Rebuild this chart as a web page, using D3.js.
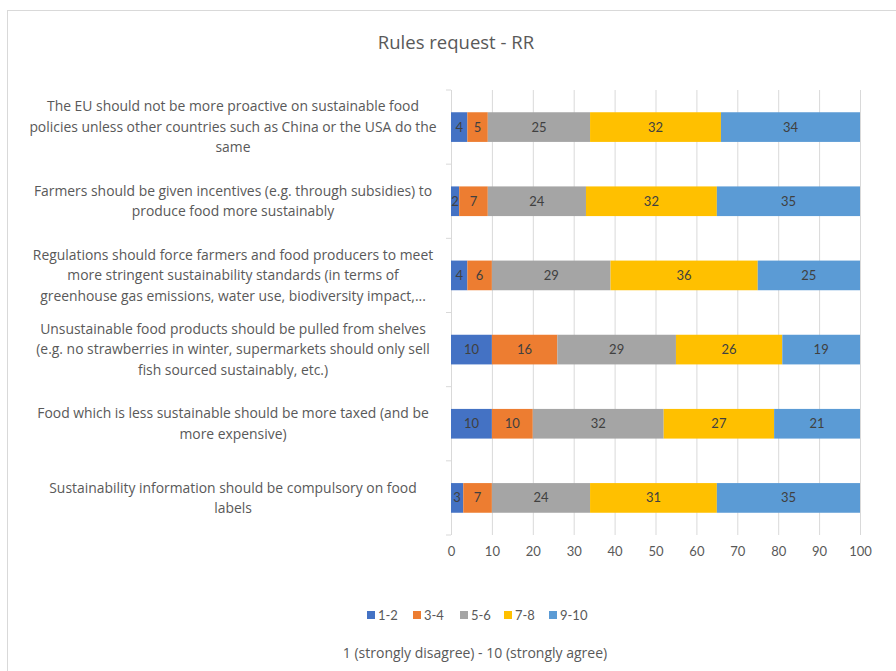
<!DOCTYPE html>
<html>
<head>
<meta charset="utf-8">
<script src="https://cdn.jsdelivr.net/npm/d3@7"></script>
<style>
  body { margin: 0; background: #fff; }
  text { font-family: Lato, "Open Sans", sans-serif; }
  .wide { font-family: "Open Sans", Lato, sans-serif; }
</style>
</head>
<body>
<div id="chart"></div>
<script>
// data
var categories = [
    ["The EU should not be more proactive on sustainable food", "policies unless other countries such as China or the USA do the", "same"],
    ["Farmers should be given incentives (e.g. through subsidies) to", "produce food more sustainably"],
    ["Regulations should force farmers and food producers to meet", "more stringent sustainability standards (in terms of", "greenhouse gas emissions, water use, biodiversity impact,..."],
    ["Unsustainable food products should be pulled from shelves", "(e.g. no strawberries in winter, supermarkets should only sell", "fish sourced sustainably, etc.)"],
    ["Food which is less sustainable should be more taxed (and be", "more expensive)"],
    ["Sustainability information should be compulsory on food", "labels"]
];
var seriesNames = ["1-2", "3-4", "5-6", "7-8", "9-10"];
var s12 = [4, 2, 4, 10, 10, 3];
var s34 = [5, 7, 6, 16, 10, 7];
var s56 = [25, 24, 29, 29, 32, 24];
var s78 = [32, 32, 36, 26, 27, 31];
var s910 = [34, 35, 25, 19, 21, 35];
var xTicks = [0, 10, 20, 30, 40, 50, 60, 70, 80, 90, 100];
var colors = ["#4472C4", "#ED7D31", "#A5A5A5", "#FFC000", "#5B9BD5"];

//general setup
var width = 896,
    height = 671;
var plot = { left: 451, right: 860, top: 90, bottom: 535 };

var rows = categories.map(function (c, i) {
    return { idx: i, "1-2": s12[i], "3-4": s34[i], "5-6": s56[i], "7-8": s78[i], "9-10": s910[i] };
});

var stacked = d3.stack().keys(seriesNames)(rows);

var xScale = d3.scaleLinear()
    .domain([0, 100])
    .range([plot.left, plot.right]);

var yScale = d3.scaleBand()
    .domain(d3.range(categories.length))
    .range([plot.top, plot.bottom])
    .paddingInner(0.6)
    .paddingOuter(0.3);

var yEdges = d3.scalePoint()
    .domain(d3.range(categories.length + 1))
    .range([plot.top, plot.bottom]);

var color = d3.scaleOrdinal().domain(seriesNames).range(colors);

var svg = d3.select("#chart").append("svg")
    .attr("width", width)
    .attr("height", height);

// chart border
svg.append("rect")
    .attr("x", 7.5)
    .attr("y", 10.5)
    .attr("width", 960)
    .attr("height", 700)
    .attr("fill", "#fff")
    .attr("stroke", "#d9d9d9");

// title
svg.append("text")
    .attr("class", "wide")
    .attr("x", 456)
    .attr("y", 49)
    .attr("text-anchor", "middle")
    .attr("fill", "#595959")
    .style("font-size", "18.5px")
    .text("Rules request - RR");

// gridlines + x axis
svg.append("g")
    .attr("transform", "translate(0," + plot.bottom + ")")
    .call(d3.axisBottom(xScale).tickValues(xTicks).tickSize(-(plot.bottom - plot.top)).tickPadding(12))
    .call(function (g) {
        g.select(".domain").remove();
        g.selectAll(".tick line").attr("stroke", "#d9d9d9");
        g.selectAll(".tick text").attr("fill", "#595959").style("font-size", "13px");
    });

// y axis tick marks at band edges
svg.append("g")
    .selectAll("line")
    .data(yEdges.domain())
    .join("line")
    .attr("x1", plot.left - 5)
    .attr("x2", plot.left)
    .attr("y1", function (d) { return yEdges(d); })
    .attr("y2", function (d) { return yEdges(d); })
    .attr("stroke", "#d9d9d9");

// bars
var layer = svg.append("g")
    .selectAll("g")
    .data(stacked)
    .join("g")
    .attr("fill", function (d) { return color(d.key); });

layer.selectAll("rect")
    .data(function (d) { return d; })
    .join("rect")
    .attr("x", function (d) { return xScale(d[0]); })
    .attr("width", function (d) { return xScale(d[1]) - xScale(d[0]); })
    .attr("y", function (d) { return yScale(d.data.idx); })
    .attr("height", yScale.bandwidth());

// data labels
layer.selectAll("text")
    .data(function (d) { return d; })
    .join("text")
    .attr("x", function (d) { return (xScale(d[0]) + xScale(d[1])) / 2; })
    .attr("y", function (d) { return yScale(d.data.idx) + yScale.bandwidth() / 2; })
    .attr("dy", "0.35em")
    .attr("text-anchor", "middle")
    .attr("fill", "#404040")
    .style("font-size", "13px")
    .text(function (d) { return d[1] - d[0]; });

// category labels
var lineH = 20.5;
var cat = svg.append("g")
    .selectAll("text")
    .data(categories)
    .join("text")
    .attr("class", "wide")
    .attr("text-anchor", "middle")
    .attr("fill", "#595959")
    .style("font-size", "13.9px");

cat.selectAll("tspan")
    .data(function (d, i) {
        return d.map(function (t, j) { return { t: t, j: j, n: d.length, i: i }; });
    })
    .join("tspan")
    .attr("x", 233)
    .attr("y", function (d) {
        var c = yScale(d.i) + yScale.bandwidth() / 2;
        return c + (d.j - (d.n - 1) / 2) * lineH;
    })
    .attr("dy", "0.35em")
    .text(function (d) { return d.t; });

// legend
var legendX = [367, 413, 460, 504, 549];
var legend = svg.append("g")
    .selectAll("g")
    .data(seriesNames)
    .join("g")
    .attr("transform", function (d, i) { return "translate(" + legendX[i] + ",615)"; });

legend.append("rect")
    .attr("x", 0)
    .attr("y", -4)
    .attr("width", 8)
    .attr("height", 8)
    .attr("fill", function (d) { return color(d); });

legend.append("text")
    .attr("x", 11)
    .attr("dy", "0.35em")
    .attr("fill", "#595959")
    .style("font-size", "13px")
    .text(function (d) { return d; });

// axis title
svg.append("text")
    .attr("class", "wide")
    .attr("x", 475)
    .attr("y", 653)
    .attr("dy", "0.35em")
    .attr("text-anchor", "middle")
    .attr("fill", "#595959")
    .style("font-size", "14px")
    .text("1 (strongly disagree) - 10 (strongly agree)");
</script>
</body>
</html>
